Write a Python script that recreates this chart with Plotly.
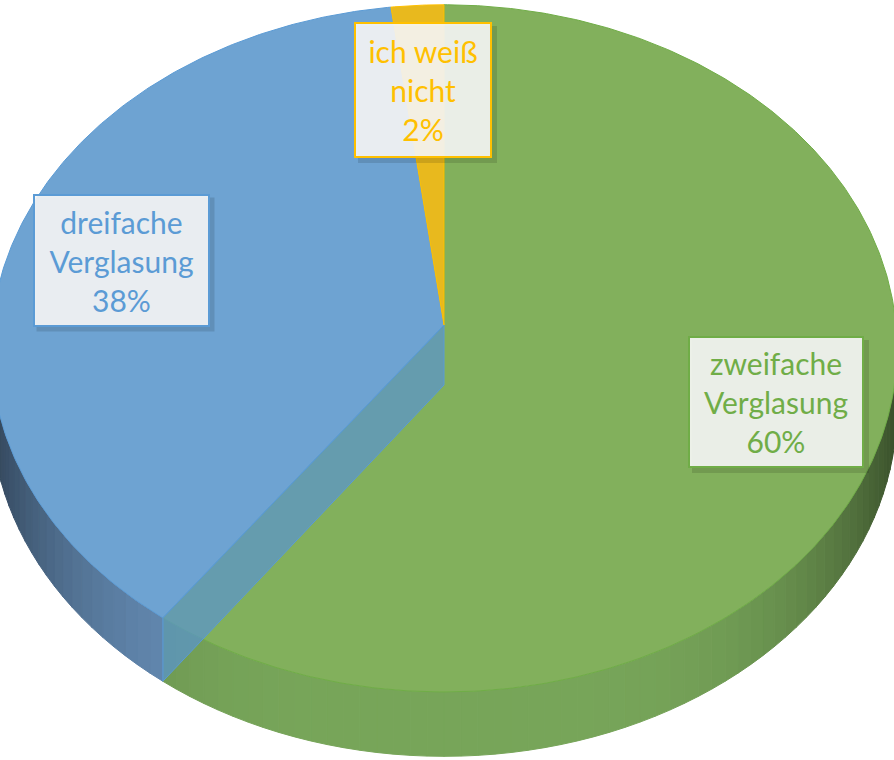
import numpy as np
import plotly.graph_objects as go

# ---- data ----
categories = ["zweifache Verglasung", "dreifache Verglasung", "ich weiß nicht"]
values = [60, 38, 2]
top_colors = ["#82B05C", "#6EA3D2", "#E8B91E"]
edge_colors = ["#70AD47", "#5B9BD5", "#FFC000"]
wall_base = [(120, 166, 90), (104, 144, 186), (220, 170, 20)]
label_pos = [(776, 402), (121, 260), (423, 90)]
label_size = [(168, 124), (169, 125), (130, 128)]

# ---- 3D-pie projection (perspective tilt) ----
CX, CY = 444, 325
A, B, K, C = 452, 342, 0.068, 60


def proj(theta_deg, depth=0.0):
    t = np.radians(theta_deg)
    u, v = np.sin(t), np.cos(t)
    w = 1 + K * v
    return CX + A * u / w, CY + (-B * v + C * depth) / w


def arc(a0, a1, depth=0.0, step=1.0):
    n = max(2, int(np.ceil(abs(a1 - a0) / step)) + 1)
    th = np.linspace(a0, a1, n)
    xs, ys = proj(th, depth)
    return list(xs), list(ys)


total = sum(values)
angles = np.concatenate([[0], np.cumsum(values) / total * 360.0])

fig = go.Figure()

# side walls (front half only)
for i in range(len(values)):
    a0, a1 = max(angles[i], 88), min(angles[i + 1], 272)
    if a1 <= a0:
        continue
    edges = np.arange(a0, a1, 2.0).tolist() + [a1]
    for j in range(len(edges) - 1):
        s0, s1 = edges[j], edges[j + 1]
        xt, yt = arc(s0, s1, 0, 0.5)
        xb, yb = arc(s1, s0, 1, 0.5)
        mid = np.radians((s0 + s1) / 2)
        f = 1 - 0.55 * abs(np.sin(mid)) ** 4
        r, g, b = (int(c * f) for c in wall_base[i])
        col = f"rgb({r},{g},{b})"
        fig.add_trace(go.Scatter(
            x=xt + xb + [xt[0]], y=yt + yb + [yt[0]], mode="lines",
            fill="toself", fillcolor=col, line=dict(color=col, width=1),
            hoverinfo="skip", showlegend=False))

# top faces
for i in range(len(values)):
    xa, ya = arc(angles[i], angles[i + 1], 0, 0.5)
    fig.add_trace(go.Scatter(
        x=[CX] + xa + [CX], y=[CY] + ya + [CY], mode="lines",
        fill="toself", fillcolor=top_colors[i],
        line=dict(color=edge_colors[i], width=1),
        name=categories[i], hoverinfo="name", showlegend=False))

# translucent radial wall of the "dreifache" slice, seen through the green slice
ab = angles[1]
rx0, ry0 = proj(ab, 0)
rx1, ry1 = proj(ab, 1)
fig.add_trace(go.Scatter(
    x=[CX, rx0, rx1, CX, CX], y=[CY, ry0, ry1, CY + C, CY], mode="lines",
    fill="toself", fillcolor="rgba(88,148,210,0.7)",
    line=dict(color="#5B9BD5", width=1), hoverinfo="skip", showlegend=False))

# labels (with soft drop shadow drawn as shapes)
annotations, shapes = [], []
for i in range(len(values)):
    head, tail = categories[i].rsplit(" ", 1)
    txt = f"{head}<br>{tail}<br>{values[i]}%"
    lx, ly = label_pos[i]
    w, h = label_size[i]
    hw, hh = w / 2 + 4, h / 2 + 4
    shapes.append(dict(type="rect", xref="x", yref="y",
                       x0=lx - hw + 4, x1=lx + hw + 5, y0=ly - hh + 4, y1=ly + hh + 5,
                       fillcolor="rgba(0,0,0,0.12)", line=dict(width=0), layer="above"))
    annotations.append(dict(
        x=lx, y=ly, xref="x", yref="y", text=txt, showarrow=False,
        width=w, height=h, bgcolor="rgba(246,246,246,0.91)", borderpad=2,
        borderwidth=2, bordercolor=edge_colors[i],
        font=dict(family="Lato, Open Sans, sans-serif", size=30, color=edge_colors[i])))

fig.update_layout(
    width=894, height=760, margin=dict(l=0, r=0, t=0, b=0),
    paper_bgcolor="white", plot_bgcolor="white",
    xaxis=dict(range=[0, 894], visible=False, fixedrange=True),
    yaxis=dict(range=[760, 0], visible=False, fixedrange=True),
    annotations=annotations, shapes=shapes, showlegend=False,
)

fig.write_html("out.html", config={"displayModeBar": False},
               post_script="document.body.style.margin='0';")
